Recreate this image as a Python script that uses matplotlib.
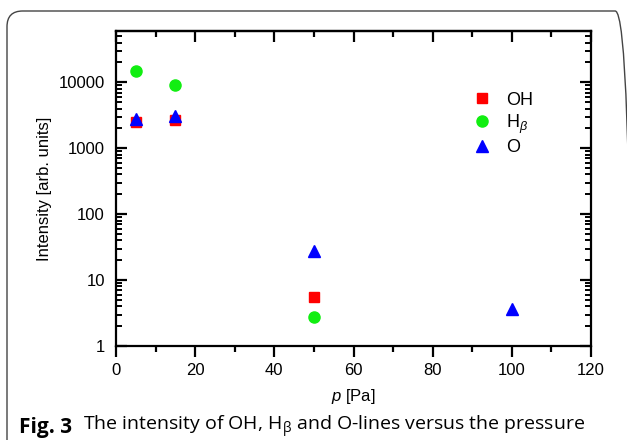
import matplotlib
matplotlib.use("Agg")
import matplotlib.pyplot as plt
from matplotlib.patches import FancyBboxPatch
from matplotlib.ticker import FixedLocator, NullFormatter, FuncFormatter, LogLocator

plt.rcParams["font.family"] = ["Liberation Sans", "DejaVu Sans"]
plt.rcParams["mathtext.fontset"] = "custom"
plt.rcParams["mathtext.rm"] = "Liberation Sans"
plt.rcParams["mathtext.it"] = "Liberation Sans:italic"

# pressure [Pa] and line intensities [arb. units]
p_oh = [5, 15, 50]
i_oh = [2500, 2700, 5.6]
p_hb = [5, 15, 50]
i_hb = [15000, 9100, 2.75]
p_o = [5, 15, 50, 100]
i_o = [2800, 3100, 28, 3.6]

fig = plt.figure(figsize=(6.27, 4.40), dpi=100)

# rounded frame around the figure
frame = FancyBboxPatch((7 / 627, -0.05), 0.995, 1.025, boxstyle="round,pad=0,rounding_size=0.025",
                       transform=fig.transFigure, facecolor="none", edgecolor="#444444",
                       linewidth=1.0, mutation_aspect=627 / 440)
fig.patches.append(frame)

ax = fig.add_axes([116 / 627, 1 - 346 / 440, 475 / 627, 315 / 440])

ax.plot(p_oh, i_oh, ls="none", marker="s", ms=7, color="#ff0000", mec="#ff0000", label="OH")
ax.plot(p_hb, i_hb, ls="none", marker="o", ms=8, color="#11ee11", mec="#11ee11", label=r"H$_\beta$")
ax.plot(p_o, i_o, ls="none", marker="^", ms=8.5, color="#0000ff", mec="#0000ff", label="O")

ax.set_yscale("log")
ax.set_xlim(0, 120)
ax.set_ylim(1, 60000)

ax.xaxis.set_major_locator(FixedLocator([0, 20, 40, 60, 80, 100, 120]))
ax.xaxis.set_minor_locator(FixedLocator([10, 30, 50, 70, 90, 110]))
ax.yaxis.set_major_locator(FixedLocator([1, 10, 100, 1000, 10000]))
ax.yaxis.set_major_formatter(FuncFormatter(lambda v, pos: f"{v:.0f}"))
ax.yaxis.set_minor_locator(LogLocator(base=10, subs=range(2, 10), numticks=20))
ax.yaxis.set_minor_formatter(NullFormatter())

for s in ax.spines.values():
    s.set_linewidth(1.6)

ax.tick_params(axis="x", which="major", direction="out", length=8, width=1.6,
               labelsize=12, pad=4, top=False)
ax.tick_params(axis="x", which="minor", direction="out", length=4.5, width=1.6, top=False)
ax.tick_params(axis="y", which="major", direction="in", length=8, width=1.6,
               labelsize=12, pad=8, left=True, right=True)
ax.tick_params(axis="y", which="minor", direction="in", length=4, width=1.4,
               left=True, right=True)

top = ax.secondary_xaxis("top")
top.xaxis.set_major_locator(FixedLocator([0, 20, 40, 60, 80, 100, 120]))
top.xaxis.set_minor_locator(FixedLocator([10, 30, 50, 70, 90, 110]))
top.tick_params(axis="x", which="major", direction="in", length=8, width=1.6, labeltop=False)
top.tick_params(axis="x", which="minor", direction="in", length=4.5, width=1.6)
top.spines["top"].set_linewidth(1.6)

ax.set_xlabel("$p$ [Pa]", fontsize=12, labelpad=7)
ax.set_ylabel("Intensity [arb. units]", fontsize=12, labelpad=5)

ax.legend(loc="center left", bbox_to_anchor=(0.733, 0.705), frameon=False, fontsize=13,
          handletextpad=0.7, labelspacing=0.2, borderaxespad=0, handlelength=1.2)

fig.text(19 / 627, 1 - 427 / 440, "Fig. 3", fontsize=15, fontweight="bold",
         family="Open Sans", va="center", ha="left")
fig.text(83 / 627, 1 - 427 / 440, r"The intensity of OH, H$_\mathregular{\beta}$ and O-lines versus the pressure",
         fontsize=14, family="Open Sans", va="center", ha="left", math_fontfamily="dejavusans")

fig.savefig("out.png", dpi=100)
